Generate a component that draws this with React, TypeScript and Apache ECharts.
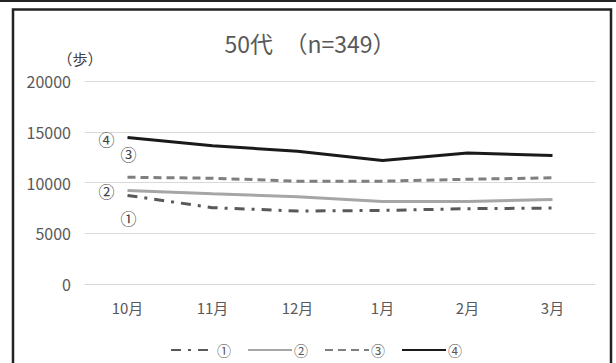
import React, { useEffect, useRef } from "react";
import * as echarts from "echarts";

const categories = ["10月", "11月", "12月", "1月", "2月", "3月"];
const seriesNames = ["①", "②", "③", "④"];
const s1 = [8730, 7520, 7190, 7250, 7420, 7480];
const s2 = [9220, 8890, 8600, 8140, 8140, 8330];
const s3 = [10520, 10420, 10130, 10130, 10320, 10460];
const s4 = [14440, 13630, 13070, 12160, 12900, 12650];
const yTicks = { min: 0, max: 20000, interval: 5000 };
const titleText = "50代　（n=349）";
const unitText = "（歩）";

const FONT = '"Noto Sans CJK JP", "Noto Sans", sans-serif';

export default function App() {
  const ref = useRef<HTMLDivElement>(null);
  useEffect(() => {
    if (!ref.current) return;
    const chart = echarts.init(ref.current, undefined, { renderer: "svg" });
    const mk = (
      name: string,
      data: number[],
      color: string,
      type: any,
      labelOffset: [number, number]
    ) => ({
      name,
      type: "line",
      symbol: "circle",
      symbolSize: 1,
      showSymbol: true,
      data: data.map((v, i) =>
        i === 0
          ? {
              value: v,
              label: {
                show: true,
                formatter: name,
                position: "inside",
                offset: labelOffset,
                color: "#404040",
                fontSize: 16,
                fontFamily: FONT,
              },
            }
          : v
      ),
      lineStyle: { color, width: 3, type },
      itemStyle: { color: "rgba(0,0,0,0)", borderWidth: 0 },
      emphasis: { disabled: true },
    });
    chart.setOption({
      animation: false,
      backgroundColor: "#fff",
      textStyle: { fontFamily: FONT },
      title: {
        text: titleText,
        left: 305,
        textAlign: "center",
        top: 26,
        textStyle: { color: "#595959", fontSize: 23, fontWeight: "normal", fontFamily: FONT },
      },
      graphic: [
        { type: "line", shape: { x1: 0, y1: 1, x2: 616, y2: 1 }, style: { stroke: "#222", lineWidth: 2 } },
        {
          type: "rect",
          shape: { x: 13, y: 9.5, width: 598, height: 360 },
          style: { fill: "none", stroke: "#222", lineWidth: 2.5 },
        },
        {
          type: "text",
          x: 80,
          y: 58,
          style: {
            text: unitText,
            fill: "#404040",
            fontSize: 15,
            fontFamily: FONT,
            align: "center",
            verticalAlign: "middle",
          },
        },
      ],
      grid: { left: 85, right: 21, top: 81, bottom: 79, containLabel: false },
      legend: {
        bottom: 1,
        left: 165,
        itemWidth: 44,
        itemHeight: 10,
        itemGap: 16,
        itemStyle: { opacity: 0, borderWidth: 0 },
        textStyle: { color: "#595959", fontSize: 14, fontFamily: FONT, padding: [0, 0, 0, -3] },
        data: seriesNames,
      },
      xAxis: {
        type: "category",
        data: categories,
        boundaryGap: true,
        axisLine: { show: true, lineStyle: { color: "#d9d9d9", width: 1 } },
        axisTick: { show: false },
        axisLabel: { color: "#595959", fontSize: 15, margin: 16, fontFamily: FONT },
      },
      yAxis: {
        type: "value",
        min: yTicks.min,
        max: yTicks.max,
        interval: yTicks.interval,
        axisLine: { show: false },
        axisTick: { show: false },
        splitLine: { lineStyle: { color: "#d9d9d9", width: 1 } },
        axisLabel: {
          color: "#595959",
          fontSize: 16,
          margin: 14,
          fontFamily: FONT,
          formatter: (v: number) => String(v),
        },
      },
      series: [
        mk(seriesNames[0], s1, "#595959", [10, 7, 3, 7], [1, 23]),
        mk(seriesNames[1], s2, "#a6a6a6", "solid", [-21, 1]),
        mk(seriesNames[2], s3, "#7f7f7f", [8, 5], [1, -23]),
        mk(seriesNames[3], s4, "#1a1a1a", "solid", [-21, 2]),
      ],
    });
    return () => chart.dispose();
  }, []);
  return (
    <div
      ref={ref}
      style={{ position: "absolute", left: 0, top: 0, width: 616, height: 363 }}
    />
  );
}
